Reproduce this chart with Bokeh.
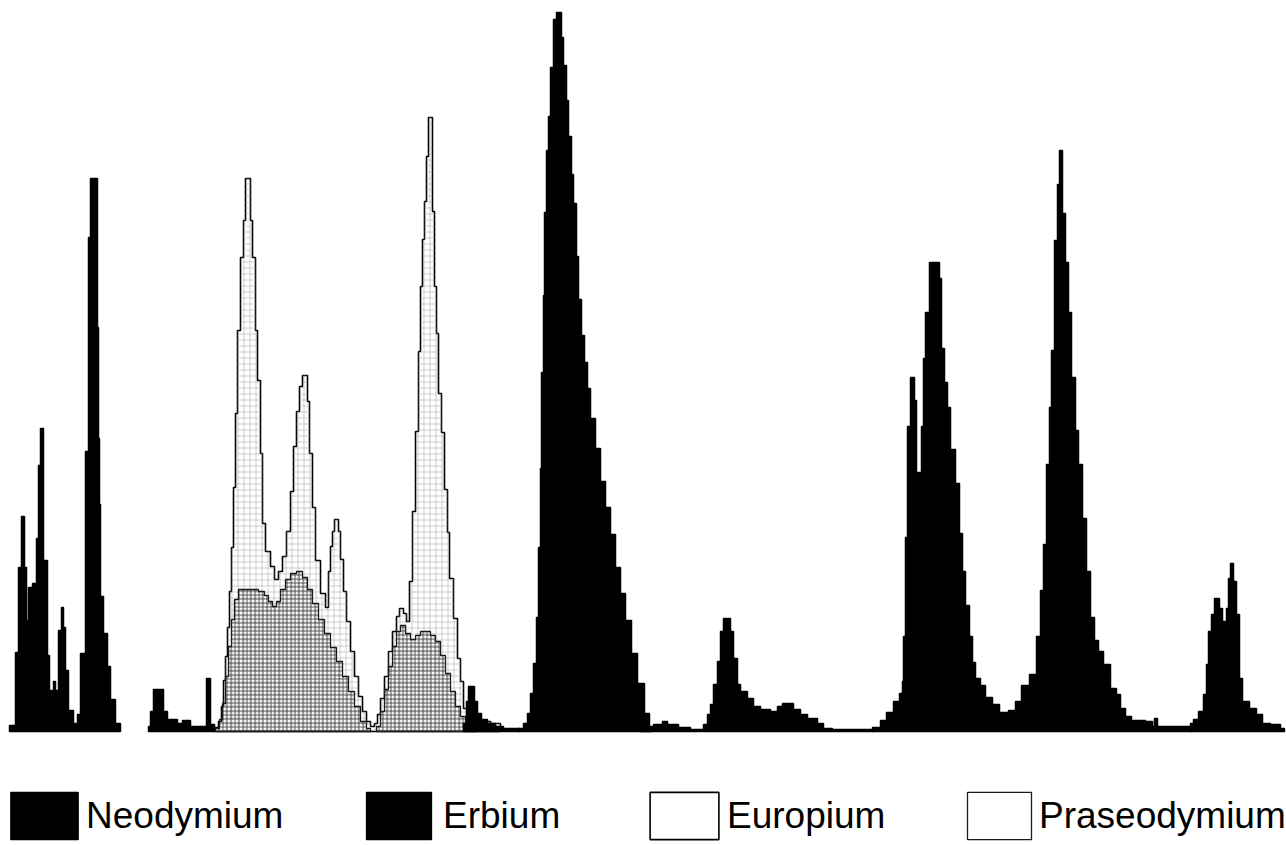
from bokeh.plotting import figure
from bokeh.models import Range1d, Legend, LegendItem
from bokeh.embed import file_html
from bokeh.resources import INLINE

# ---- data: histogram bins (bin start position, height); last entry closes the series ----
nd_x = [9, 15, 18, 21, 24, 26, 28, 32, 36, 38, 40, 43, 47, 49, 53, 55, 58, 61, 63, 65, 68, 73,
        77, 80, 85, 88, 90, 97, 98, 99, 100, 103, 107, 110, 115, 120,
        148, 150, 153, 163, 167, 177, 182, 190, 206, 210, 214,
        463, 466, 468, 474, 477, 481, 487, 495, 503, 519,
        640, 653, 662, 667, 678, 690, 703, 707, 710, 713, 717, 720, 723, 730, 733, 737, 740, 747,
        753, 760, 770, 777, 782, 793, 800, 807, 817, 823, 832, 873,
        1190, 1193, 1198, 1203, 1206, 1208, 1211, 1214, 1219, 1222, 1226, 1228, 1230, 1233, 1236,
        1239, 1242, 1249, 1256, 1262, 1270, 1280, 1284]
nd_h = [6, 79, 164, 215, 164, 111, 144, 148, 193, 266, 303, 171, 76, 41, 50, 41, 101, 124, 104, 61, 21, 8,
        17, 78, 280, 494, 553, 404, 293, 227, 135, 98, 65, 32, 8, 0,
        5, 20, 42, 20, 12, 8, 11, 5, 53, 7, 0,
        8, 30, 45, 30, 18, 12, 8, 5, 3, 0,
        2, 7, 10, 7, 4, 2, 7, 17, 27, 47, 70, 100, 113, 100, 73, 47, 40, 33,
        25, 22, 20, 25, 28, 22, 17, 13, 8, 3, 2, 0,
        8, 12, 20, 37, 67, 100, 117, 133, 123, 110, 123, 153, 168, 150, 117,
        53, 30, 23, 17, 8, 7, 3, 0]

er_x = [518, 523, 527, 530, 533, 536, 538, 540, 541, 543, 544, 546, 548, 550, 553, 556, 561, 563, 566,
        568, 571, 573, 576, 578, 581, 584, 587, 590, 595, 600, 605, 610, 615, 620, 625, 631, 637, 644,
        649, 652,
        872, 880, 886, 893, 899, 902, 903, 905, 907, 910, 914, 916, 921, 923, 925, 929, 939, 941, 944,
        947, 950, 955, 959, 962, 965, 969, 972, 975, 980, 985, 992, 999, 1008, 1015, 1021, 1029, 1036,
        1040, 1043, 1046, 1049, 1051, 1054, 1057, 1059, 1062, 1065, 1068, 1071, 1075, 1078, 1082, 1086,
        1090, 1094, 1098, 1103, 1110, 1116, 1120, 1125, 1131, 1145, 1152, 1154, 1157, 1191]
er_h = [3, 8, 18, 38, 68, 114, 184, 263, 359, 436, 519, 581, 615, 664, 712, 719, 694, 666, 631,
        595, 557, 528, 475, 432, 396, 369, 343, 313, 283, 250, 224, 197, 164, 138, 111, 78, 48, 18,
        5, 0,
        4, 11, 19, 30, 38, 50, 95, 194, 305, 354, 331, 259, 305, 373, 419, 469, 453, 383, 349,
        324, 282, 248, 198, 160, 126, 95, 69, 53, 46, 34, 27, 19, 21, 30, 46, 57, 95,
        141, 187, 267, 324, 381, 491, 547, 581, 518, 469, 419, 354, 301, 267, 213, 160,
        114, 91, 80, 67, 43, 37, 23, 15, 11, 10, 5, 13, 5, 0]

eu_x = [213, 218, 221, 223, 225, 227, 229, 231, 233, 235, 237, 240, 243, 245, 250, 252, 255, 257, 260,
        262, 265, 270, 274, 278, 282, 286, 290, 293, 296, 299, 302, 307, 309, 312, 315, 320, 325, 328,
        330, 332, 334, 338, 340, 343, 346, 350, 354, 358, 362, 366, 370, 374, 377, 380, 384, 388, 392,
        396, 399, 403, 406, 409, 412, 415, 418, 420, 422, 424, 426, 428, 432, 434, 436, 438, 441, 444,
        447, 449, 453, 457, 460, 463, 470, 480, 490, 500]
eu_h = [4, 10, 25, 51, 75, 104, 140, 184, 244, 318, 401, 474, 511, 553, 511, 474, 401, 351, 278,
        208, 180, 165, 152, 160, 175, 200, 240, 285, 320, 345, 356, 330, 278, 224, 171, 138, 124, 160,
        185, 200, 212, 200, 172, 140, 110, 80, 55, 35, 20, 10, 5, 8, 17, 33, 55, 80, 100,
        115, 123, 118, 110, 150, 220, 300, 380, 445, 492, 530, 575, 614, 520, 445, 398, 338, 299, 242,
        199, 153, 113, 73, 50, 23, 15, 10, 8, 0]

pr_x = [215, 219, 222, 225, 228, 231, 234, 238, 258, 264, 268, 272, 276, 280, 285, 290, 296, 302, 307,
        312, 318, 324, 330, 336, 342, 348, 354, 360, 366, 370,
        376, 380, 384, 388, 392, 396, 400, 405, 410, 415, 420, 425, 430, 435, 440, 445, 450, 455, 460,
        465, 475]
pr_h = [3, 12, 28, 55, 85, 112, 132, 142, 140, 136, 130, 125, 130, 142, 152, 158, 160, 154, 142,
        128, 112, 98, 84, 70, 55, 40, 25, 10, 3, 0,
        5, 20, 42, 65, 85, 100, 106, 98, 92, 96, 100, 100, 96, 90, 76, 58, 40, 25, 15,
        8, 0]

names = ["Neodymium", "Erbium", "Europium", "Praseodymium"]


def step_segments(xs, hs):
    """Turn histogram bins into stepped polygons, one per run of non-empty bins."""
    out_x, out_y = [], []
    cur_x, cur_y = None, None
    for i in range(len(xs) - 1):
        if hs[i] > 0:
            if cur_x is None:
                cur_x, cur_y = [xs[i]], [0]
            cur_x += [xs[i], xs[i + 1]]
            cur_y += [hs[i], hs[i]]
        elif cur_x is not None:
            cur_x.append(xs[i]); cur_y.append(0)
            out_x.append(cur_x); out_y.append(cur_y)
            cur_x = None
    if cur_x is not None:
        cur_x.append(xs[-1]); cur_y.append(0)
        out_x.append(cur_x); out_y.append(cur_y)
    return out_x, out_y


p = figure(width=1286, height=845, output_backend="svg", toolbar_location=None,
           x_range=Range1d(0, 1286), y_range=Range1d(-114, 731),
           x_axis_location=None, y_axis_location=None, min_border=0)
p.grid.visible = False
p.outline_line_color = None
p.background_fill_color = "white"
p.border_fill_color = "white"

ex, ey = step_segments(eu_x, eu_h)
eu_r = p.patches(ex, ey, fill_color="white", line_color="black", line_width=1.6)
p.patches(ex, ey, fill_alpha=0, line_alpha=0,
          hatch_pattern="cross", hatch_color="#a0a0a0", hatch_scale=6, hatch_weight=0.7, hatch_alpha=0.7)

rx, ry = step_segments(pr_x, pr_h)
p.patches(rx, ry, fill_alpha=0, line_alpha=0,
          hatch_pattern="cross", hatch_color="#2a2a2a", hatch_scale=4, hatch_weight=1.0, hatch_alpha=0.75)
pr_r = p.patches(rx, ry, fill_alpha=0, line_color="#1a1a1a", line_width=1.3)

nx, ny = step_segments(nd_x, nd_h)
nd_r = p.patches(nx, ny, fill_color="black", line_color="black", line_width=1.5)

bx, by = step_segments(er_x, er_h)
er_r = p.patches(bx, by, fill_color="black", line_color="black", line_width=1.5)

renderers = [nd_r, er_r, eu_r, pr_r]
legend_pos = [(2, 0), (358, 0), (641, 0), (959, 0)]
legend_gw = [84, 81, 86, 80]
legend_standoff = [-1, 4, -9, -5]
for name, r, pos, gw, so in zip(names, renderers, legend_pos, legend_gw, legend_standoff):
    leg = Legend(items=[LegendItem(label=name, renderers=[r])], location=pos,
                 glyph_width=gw, glyph_height=59, label_standoff=so,
                 label_text_font="Liberation Sans", label_text_font_size="37px",
                 label_text_color="black", padding=0, margin=0, spacing=0,
                 border_line_alpha=0, background_fill_alpha=0)
    p.add_layout(leg)

open("out.html", "w").write(file_html(p, INLINE))
